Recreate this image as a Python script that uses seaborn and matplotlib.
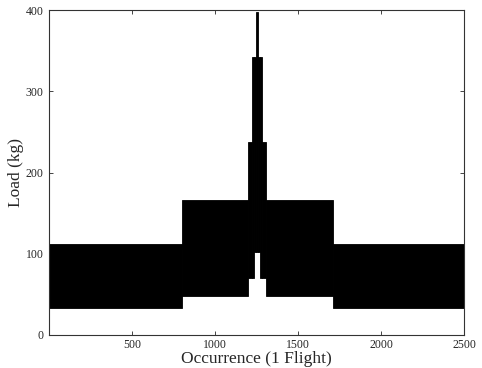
import numpy as np
import pandas as pd
import matplotlib
matplotlib.use("Agg")
import matplotlib.pyplot as plt
import seaborn as sns

# Load spectrum segments (occurrence range and min/max load)
seg_start = [0, 800, 1200, 1225, 1237, 1245, 1261, 1270, 1280, 1305, 1710]
seg_end = [800, 1200, 1225, 1237, 1245, 1261, 1270, 1280, 1305, 1710, 2500]
load_min = [33, 48, 70, 70, 102, 102, 102, 70, 70, 48, 33]
load_max = [112, 166, 238, 342, 342, 397, 342, 342, 238, 166, 112]

x_ticks = [500, 1000, 1500, 2000, 2500]
y_ticks = [0, 100, 200, 300, 400]

sns.set_style("white")
plt.rcParams['font.family'] = ['Liberation Serif', 'DejaVu Serif']

df = pd.DataFrame({"start": seg_start, "end": seg_end, "lo": load_min, "hi": load_max})
df["width"] = df["end"] - df["start"]
df["height"] = df["hi"] - df["lo"]

fig = plt.figure(figsize=(4.82, 3.68), dpi=100)
ax = fig.add_axes([0.1017, 0.0897, 0.8610, 0.8831])

ax.bar(df["start"], df["height"], width=df["width"], bottom=df["lo"],
       align="edge", color="black", edgecolor="black", linewidth=0.6)

ax.set_xlim(0, 2500)
ax.set_ylim(0, 400)
ax.set_xticks(x_ticks)
ax.set_yticks(y_ticks)
ax.tick_params(direction="in", length=3, width=0.6, labelsize=8.5,
               top=True, right=True, bottom=True, left=True)
ax.tick_params(axis="y", pad=4)
ax.tick_params(axis="x", pad=3)
for s in ax.spines.values():
    s.set_visible(True)
    s.set_color("#333333")
    s.set_linewidth(0.8)

ax.set_xlabel("Occurrence (1 Flight)", fontsize=12.5, labelpad=0)
ax.set_ylabel("Load (kg)", fontsize=12.5)
ax.yaxis.set_label_coords(-0.060, 0.5)

fig.savefig("out.png", dpi=100)
